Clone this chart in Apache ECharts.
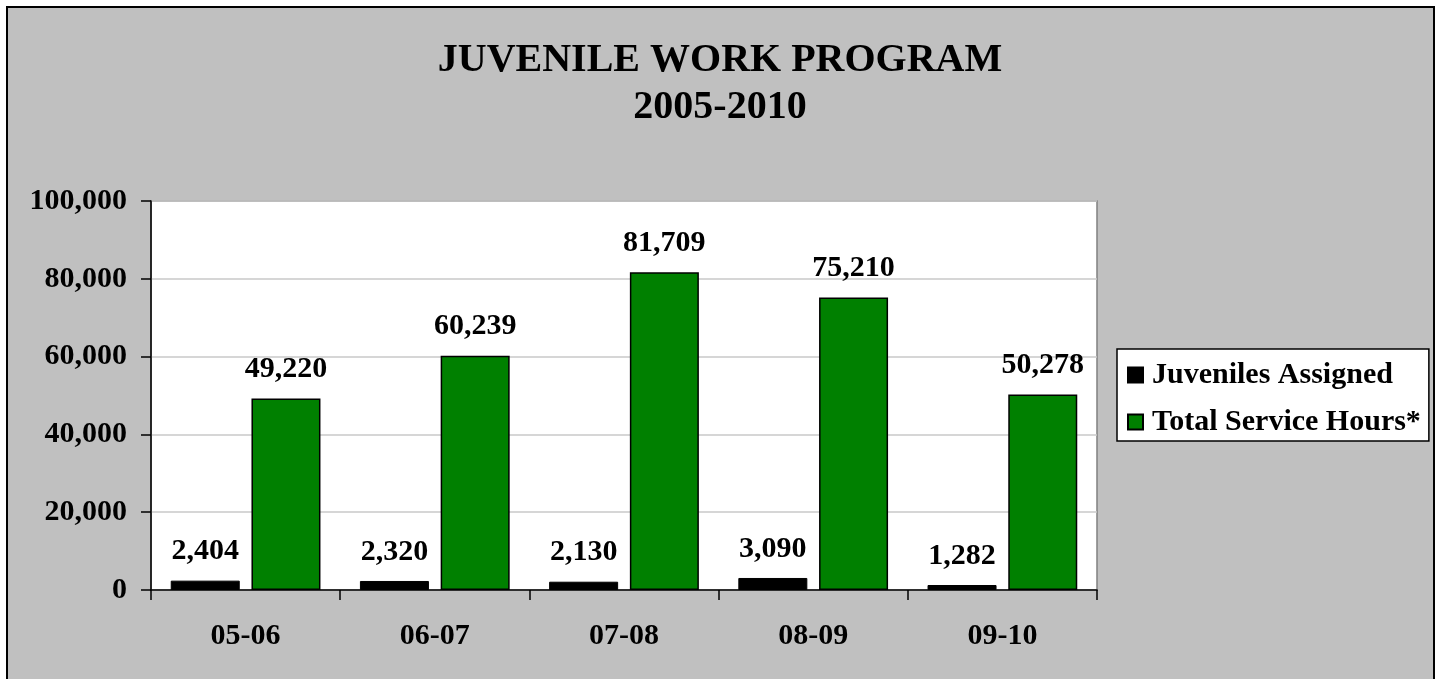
<!DOCTYPE html>
<html>
<head>
<meta charset="utf-8">
<title>Juvenile Work Program 2005-2010</title>
<script src="https://cdn.jsdelivr.net/npm/echarts@6/dist/echarts.min.js"></script>
<style>
  html, body { margin: 0; padding: 0; background: #ffffff; }
  #chart { width: 1440px; height: 679px; }
</style>
</head>
<body>
<div id="chart"></div>
<script>
// Fiscal years and program totals
const fiscalYears = ['05-06', '06-07', '07-08', '08-09', '09-10'];
const juvenilesAssigned = [2404, 2320, 2130, 3090, 1282];
const totalServiceHours = [49220, 60239, 81709, 75210, 50278];
const seriesNames = ['Juveniles Assigned', 'Total Service Hours*'];
const chartTitle = 'JUVENILE WORK PROGRAM\n2005-2010';

const FONT = '"Liberation Serif", "Times New Roman", serif';
const fmt = v => Number(v).toLocaleString('en-US');

const chart = echarts.init(document.getElementById('chart'), null, { renderer: 'canvas' });

const labelStyle = {
  show: true,
  position: 'top',
  distance: 14,
  fontFamily: FONT,
  fontWeight: 'bold',
  fontSize: 30,
  color: '#000',
  formatter: p => fmt(p.value)
};

chart.setOption({
  backgroundColor: '#ffffff',
  animation: false,
  graphic: [{
    type: 'rect',
    z: -10,
    silent: true,
    shape: { x: 7, y: 7, width: 1427, height: 700 },
    style: { fill: '#c0c0c0', stroke: '#000', lineWidth: 2 }
  }],
  title: {
    text: chartTitle,
    left: 'center',
    top: 37,
    padding: 0,
    textStyle: {
      fontFamily: FONT,
      fontWeight: 'bold',
      fontSize: 40,
      lineHeight: 47,
      color: '#000'
    }
  },
  legend: {
    orient: 'vertical',
    left: 1117,
    top: 349,
    padding: [9, 8, 2, 10],
    itemGap: 13,
    itemWidth: 15,
    itemHeight: 15,
    backgroundColor: '#ffffff',
    borderColor: '#000',
    borderWidth: 1.5,
    borderRadius: 0,
    icon: 'rect',
    selectedMode: false,
    textStyle: {
      fontFamily: FONT,
      fontWeight: 'bold',
      fontSize: 30,
      lineHeight: 34,
      color: '#000',
      padding: [0, 0, 0, 4]
    },
    data: seriesNames
  },
  grid: {
    left: 151,
    top: 201,
    width: 946,
    height: 389,
    show: true,
    backgroundColor: '#ffffff',
    borderColor: '#808080',
    borderWidth: 1.5,
    containLabel: false
  },
  xAxis: {
    type: 'category',
    data: fiscalYears,
    boundaryGap: true,
    axisLine: { show: true, lineStyle: { color: '#000', width: 1.5 } },
    axisTick: { show: true, inside: false, length: 10, lineStyle: { color: '#000', width: 1.5 } },
    axisLabel: {
      margin: 31,
      fontFamily: FONT,
      fontWeight: 'bold',
      fontSize: 30,
      color: '#000'
    },
    splitLine: { show: false }
  },
  yAxis: {
    type: 'value',
    min: 0,
    max: 100000,
    interval: 20000,
    axisLine: { show: true, lineStyle: { color: '#000', width: 1.5 } },
    axisTick: { show: true, inside: false, length: 10, lineStyle: { color: '#000', width: 1.5 } },
    axisLabel: {
      margin: 24,
      fontFamily: FONT,
      fontWeight: 'bold',
      fontSize: 30,
      color: '#000',
      formatter: v => fmt(v)
    },
    splitLine: { show: true, lineStyle: { color: '#c8c8c8', width: 1.5 } }
  },
  series: [
    {
      name: seriesNames[0],
      type: 'bar',
      data: juvenilesAssigned,
      barWidth: 69,
      barGap: '17%',
      itemStyle: { color: '#000000', borderColor: '#000', borderWidth: 1 },
      label: labelStyle
    },
    {
      name: seriesNames[1],
      type: 'bar',
      data: totalServiceHours,
      barWidth: 69,
      barGap: '17%',
      itemStyle: { color: '#008000', borderColor: '#000', borderWidth: 1.5 },
      label: labelStyle
    }
  ]
});
</script>
</body>
</html>
